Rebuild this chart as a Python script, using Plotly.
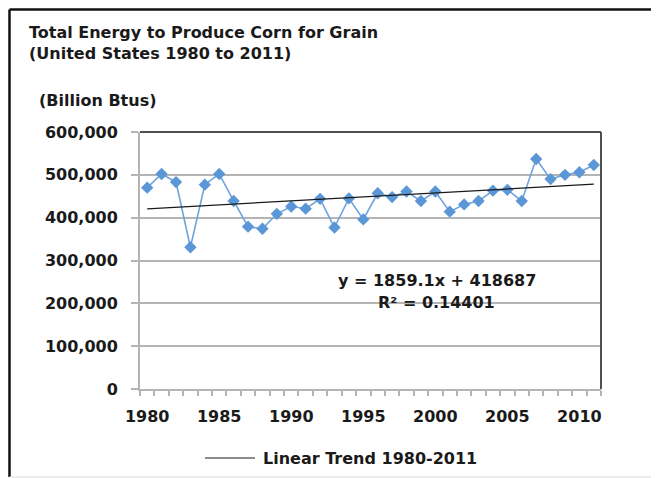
import plotly.graph_objects as go

# Energy to produce corn for grain, United States (billion Btus)
years = list(range(1980, 2012))
energy = [470000, 502000, 483000, 331000, 477000, 502000, 439000, 379000,
          374000, 409000, 426000, 421000, 444000, 377000, 445000, 396000,
          457000, 448000, 461000, 439000, 461000, 414000, 431000, 439000,
          463000, 465000, 439000, 537000, 490000, 500000, 506000, 523000]

# Excel linear trend, x = 1..32
slope = 1859.1
intercept = 418687
r_squared = 0.14401
trend = [slope * (i + 1) + intercept for i in range(len(years))]

y_ticks = [0, 100000, 200000, 300000, 400000, 500000, 600000]
x_ticks = [1980, 1985, 1990, 1995, 2000, 2005, 2010]

FONT = "DejaVu Sans"
TXT = "#1a1a1a"
GRID = "#b4b4b4"

fig = go.Figure()
fig.add_trace(go.Scatter(
    x=years, y=energy, mode="lines+markers", showlegend=False,
    line=dict(color="#6ea3dc", width=1.6),
    marker=dict(symbol="diamond", size=9.5, color="#5b97d6"),
))
fig.add_trace(go.Scatter(
    x=years, y=trend, mode="lines", showlegend=False,
    line=dict(color="#1a1a1a", width=1.2),
))

fig.update_xaxes(
    range=[1979.5, 2011.5], tickvals=x_ticks, showgrid=False, zeroline=False,
    showline=True, linecolor=GRID, linewidth=2, ticks="",
    minor=dict(ticks="outside", tick0=1979.5, dtick=1, ticklen=5, tickcolor=GRID, tickwidth=1.5),
    tickfont=dict(family=FONT, size=16, color=TXT, weight="bold"),
    ticklabelstandoff=12,
)
fig.update_yaxes(
    range=[0, 600000], tickvals=y_ticks, tickformat=",d",
    showgrid=True, gridcolor=GRID, gridwidth=2, zeroline=False,
    showline=True, linecolor=GRID, linewidth=2,
    ticks="outside", ticklen=7, tickcolor=GRID, tickwidth=2,
    tickfont=dict(family=FONT, size=16, color=TXT, weight="bold"),
    ticklabelstandoff=10,
)

ann_font = dict(family=FONT, size=16, color=TXT, weight="bold")
fig.add_annotation(xref="paper", yref="paper", x=-0.245, y=1.348, xanchor="left", yanchor="middle",
                   align="left", showarrow=False, font=ann_font,
                   text="Total Energy to Produce Corn for Grain<br>(United States 1980 to 2011)")
fig.add_annotation(xref="paper", yref="paper", x=-0.2234, y=1.1245, xanchor="left", yanchor="middle",
                   showarrow=False, font=ann_font, text="(Billion Btus)")
fig.add_annotation(x=2000.1, y=254000, showarrow=False, font=ann_font,
                   text=f"y = {slope}x + {intercept}")
fig.add_annotation(x=2000.1, y=201000, showarrow=False, font=ann_font,
                   text=f"R² = {r_squared}")

# legend for the trend line, drawn by hand (longer sample line as in Excel)
fig.add_shape(type="line", xref="paper", yref="paper", x0=0.141, x1=0.2495, y0=-0.2685, y1=-0.2685,
              line=dict(color="#1a1a1a", width=1.2))
fig.add_annotation(xref="paper", yref="paper", x=0.2625, y=-0.2685, xanchor="left", yanchor="middle",
                   showarrow=False, font=ann_font, text="Linear Trend 1980-2011")

# plot frame (top/right darker) and outer chart border
fig.add_shape(type="line", xref="paper", yref="paper", x0=0, x1=1, y0=1, y1=1,
              line=dict(color="#505050", width=2))
fig.add_shape(type="line", xref="paper", yref="paper", x0=1, x1=1, y0=0, y1=1,
              line=dict(color="#505050", width=2))
fig.add_shape(type="line", xref="paper", yref="paper", x0=-0.2831, x1=-0.2831, y0=-0.3424, y1=1.4767,
              line=dict(color="#111111", width=2.5))
fig.add_shape(type="line", xref="paper", yref="paper", x0=-0.2831, x1=1.14, y0=1.4767, y1=1.4767,
              line=dict(color="#111111", width=2.5))
fig.add_shape(type="line", xref="paper", yref="paper", x0=-0.2831, x1=1.14, y0=-0.3424, y1=-0.3424,
              line=dict(color="#e6e6e6", width=1.5))

# page body has an 8px margin, so the figure is sized to fill the rest of the window
fig.update_layout(
    width=651, height=470,
    margin=dict(l=132, r=58, t=124, b=89),
    paper_bgcolor="white", plot_bgcolor="white",
    showlegend=False,
)

fig.write_html("out.html")
